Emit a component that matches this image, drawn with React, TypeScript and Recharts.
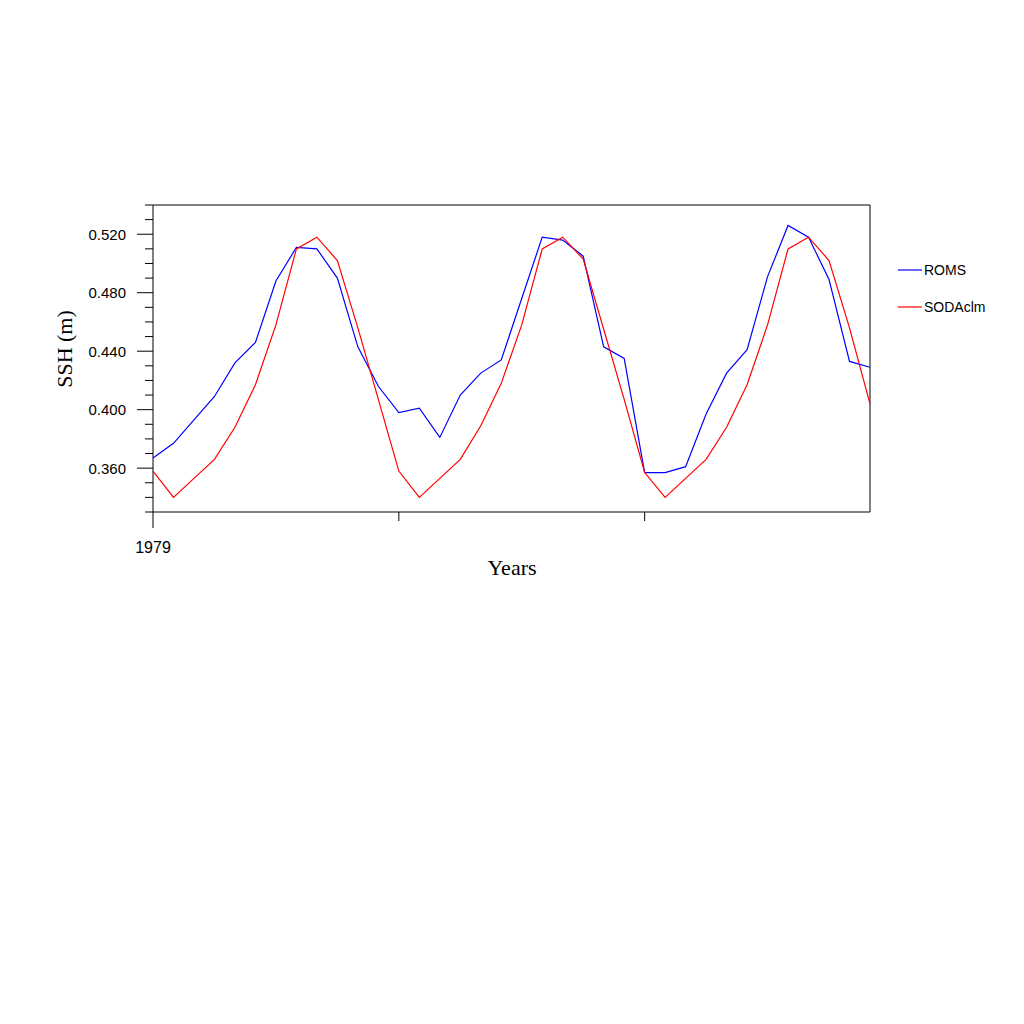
import React from 'react';
import { LineChart, Line, XAxis, YAxis, Legend, ReferenceArea } from 'recharts';

// monthly SSH (m), 3 years starting Jan 1979
const romsValues = [
  0.367, 0.377, 0.393, 0.409, 0.432, 0.446, 0.488, 0.511, 0.510, 0.490, 0.443, 0.416,
  0.398, 0.401, 0.381, 0.410, 0.425, 0.434, 0.476, 0.518, 0.516, 0.505, 0.443, 0.435,
  0.357, 0.357, 0.361, 0.397, 0.425, 0.441, 0.491, 0.526, 0.518, 0.489, 0.433, 0.429,
];
const sodaValues = [
  0.358, 0.340, 0.353, 0.366, 0.388, 0.417, 0.458, 0.510, 0.518, 0.502, 0.456, 0.407,
  0.358, 0.340, 0.353, 0.366, 0.389, 0.418, 0.458, 0.510, 0.518, 0.503, 0.455, 0.407,
  0.357, 0.340, 0.353, 0.366, 0.388, 0.417, 0.458, 0.510, 0.518, 0.502, 0.456, 0.404,
];

const yearTicks = [0, 12, 24];
const yearLabels = ['1979', '', ''];
const majorYTicks = [0.36, 0.4, 0.44, 0.48, 0.52];
const minorYTicks = [
  0.33, 0.34, 0.35, 0.37, 0.38, 0.39, 0.41, 0.42, 0.43, 0.45, 0.46, 0.47, 0.49, 0.5, 0.51, 0.53, 0.54,
];

const data = romsValues.map((v, i) => ({ month: i, ROMS: v, SODAclm: sodaValues[i] }));
const allYTicks = [...majorYTicks, ...minorYTicks].sort((a, b) => a - b);

const tickFont = 'Liberation Sans, Arial, Helvetica, sans-serif';
const serifFont = 'Liberation Serif, Times New Roman, serif';

function YTick(props: any) {
  const { x, y, payload } = props;
  const major = majorYTicks.some((t) => Math.abs(t - payload.value) < 1e-6);
  return (
    <g>
      <line x1={x - (major ? 16 : 8)} x2={x} y1={y} y2={y} stroke="#000" strokeWidth={1} />
      {major && (
        <text x={x - 27} y={y} textAnchor="end" dominantBaseline="central" fontSize={15} fontFamily={tickFont} fill="#000">
          {payload.value.toFixed(3)}
        </text>
      )}
    </g>
  );
}

function XTick(props: any) {
  const { x, y, index } = props;
  const label = yearLabels[index] ?? '';
  const major = label !== '';
  return (
    <g>
      <line x1={x} x2={x} y1={y} y2={y + (major ? 16 : 9)} stroke="#000" strokeWidth={1} />
      {major && (
        <text x={x} y={y + 35} textAnchor="middle" dominantBaseline="central" fontSize={16} fontFamily={tickFont} fill="#000">
          {label}
        </text>
      )}
    </g>
  );
}

function LegendBox(props: any) {
  const items = props.payload || [];
  return (
    <svg width={120} height={80} style={{ display: 'block' }}>
      {items.map((item: any, i: number) => (
        <g key={item.value}>
          <line x1={0} x2={24} y1={18 + i * 37} y2={18 + i * 37} stroke={item.color} strokeWidth={1.2} />
          <text x={26} y={18 + i * 37} dominantBaseline="central" fontSize={14} fontFamily={tickFont} fill="#000">
            {item.value}
          </text>
        </g>
      ))}
    </svg>
  );
}

export default function App() {
  return (
    <div style={{ position: 'absolute', left: 0, top: 0, width: 1024, height: 1024, background: '#fff' }}>
      <LineChart width={1024} height={1024} data={data} margin={{ top: 205, right: 154, bottom: 472, left: 43 }}>
        <XAxis
          dataKey="month"
          type="number"
          domain={[0, 35]}
          ticks={yearTicks}
          interval={0}
          tickSize={0}
          tickMargin={0}
          tickLine={false}
          axisLine={false}
          height={40}
          tick={<XTick />}
          label={{
            content: () => (
              <text x={512} y={567} textAnchor="middle" dominantBaseline="central" fontSize={22} fontFamily={serifFont} fill="#000">
                Years
              </text>
            ),
          }}
        />
        <YAxis
          type="number"
          domain={[0.33, 0.54]}
          ticks={allYTicks}
          interval={0}
          tickSize={0}
          tickMargin={0}
          tickLine={false}
          axisLine={false}
          width={110}
          tick={<YTick />}
          label={{
            content: () => (
              <text
                x={64}
                y={349}
                transform="rotate(-90 64 349)"
                textAnchor="middle"
                dominantBaseline="central"
                fontSize={22}
                fontFamily={serifFont}
                fill="#000"
              >
                SSH (m)
              </text>
            ),
          }}
        />
        <ReferenceArea x1={0} x2={35} y1={0.33} y2={0.54} fill="none" stroke="#000" strokeWidth={1} ifOverflow="visible" />
        <Legend
          layout="vertical"
          align="center"
          verticalAlign="middle"
          content={<LegendBox />}
          wrapperStyle={{ position: 'absolute', left: 898, top: 252, width: 120, height: 80 }}
        />
        <Line type="linear" dataKey="ROMS" stroke="#0000ff" strokeWidth={1.2} dot={false} isAnimationActive={false} />
        <Line type="linear" dataKey="SODAclm" stroke="#ff0000" strokeWidth={1.2} dot={false} isAnimationActive={false} />
      </LineChart>
    </div>
  );
}
